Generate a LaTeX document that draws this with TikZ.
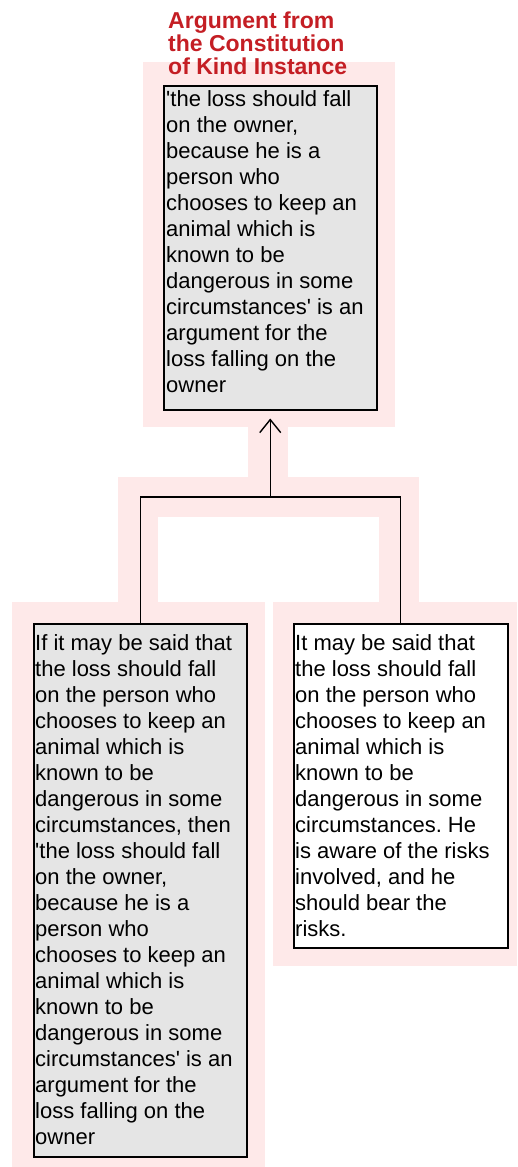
\documentclass[tikz,border=0pt]{standalone}
\usepackage{fontspec}
\setmainfont{Liberation Sans}
\usetikzlibrary{arrows.meta}
\definecolor{halo}{RGB}{254,233,233}
\definecolor{boxgrey}{RGB}{229,229,229}
\definecolor{titlered}{RGB}{196,30,36}
\frenchspacing
\begin{document}
\begin{tikzpicture}[x=1pt,y=-1pt,
  halofill/.style={fill=halo,draw=none},
  argbox/.style={draw=black,line width=1.5pt,anchor=north west,inner sep=0pt},
  txt/.style={anchor=north west,inner sep=0pt,align=left,
    font=\fontsize{22}{26}\selectfont},
  heading/.style={anchor=north west,inner sep=0pt,align=left,text=titlered,
    font=\fontsize{23}{23}\selectfont\bfseries},
  conn/.style={draw=black,line width=1.4pt}]
\useasboundingbox (0,0) rectangle (517,1167);
% light highlight areas behind the argument boxes and links
\fill[halofill] (143,62) rectangle (395,427);
\fill[halofill] (248,427) rectangle (288,477);
\fill[halofill] (118,477) rectangle (419,517);
\fill[halofill] (118,517) rectangle (158,602);
\fill[halofill] (379,517) rectangle (419,602);
\fill[halofill] (12,602) rectangle (265,1167);
\fill[halofill] (273,602) rectangle (517,966);
% argument boxes
\node[argbox,fill=boxgrey,minimum width=213pt,minimum height=324pt] (top) at (163,85) {};
\node[argbox,fill=boxgrey,minimum width=213pt,minimum height=533pt] (lb) at (33,623) {};
\node[argbox,fill=white,minimum width=214pt,minimum height=324pt] (rb) at (293,623) {};
% heading
\node[heading] (title) at (168,27.7-16.5) {\rule{0pt}{16.5pt}Argument from\\the Constitution\\of Kind Instance};
% box texts
\node[txt] (toptext) at (166,106-16) {\rule{0pt}{16pt}\textquotesingle the loss should fall\\on the owner,\\because he is a\\person who\\chooses to keep an\\animal which is\\known to be\\dangerous in some\\circumstances\textquotesingle\ is an\\argument for the\\loss falling on the\\owner};
\node[txt] (lbtext) at (35,650-16) {\rule{0pt}{16pt}If it may be said that\\the loss should fall\\on the person who\\chooses to keep an\\animal which is\\known to be\\dangerous in some\\circumstances, then\\\textquotesingle the loss should fall\\on the owner,\\because he is a\\person who\\chooses to keep an\\animal which is\\known to be\\dangerous in some\\circumstances\textquotesingle\ is an\\argument for the\\loss falling on the\\owner};
\node[txt] (rbtext) at (295,650-16) {\rule{0pt}{16pt}It may be said that\\the loss should fall\\on the person who\\chooses to keep an\\animal which is\\known to be\\dangerous in some\\circumstances. He\\is aware of the risks\\involved, and he\\should bear the\\risks.};
% linked premises joining into the conclusion
\coordinate (j) at (top.south |- 0,497);
\draw[conn] (lb.north) -- (lb.north |- j) -- (rb.north |- j) -- (rb.north);
\draw[conn,-{Straight Barb[length=13pt,width=21pt]}] (j) -- ([yshift=-8pt]top.south);
\end{tikzpicture}
\end{document}
